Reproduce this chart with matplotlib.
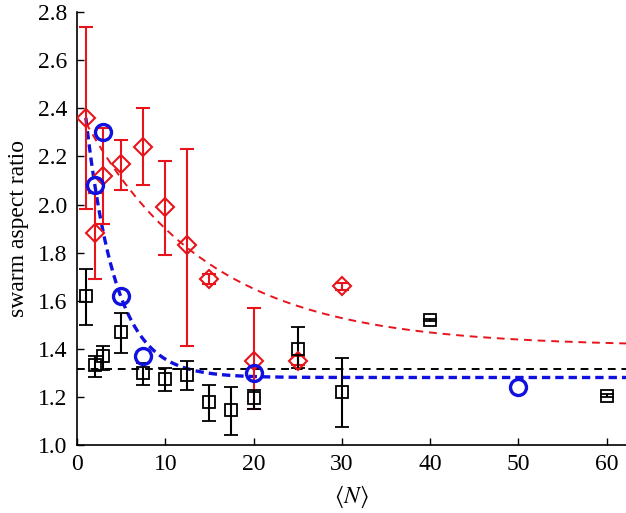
import numpy as np
import matplotlib
matplotlib.use("Agg")
import matplotlib.pyplot as plt

plt.rcParams['font.family'] = ['Liberation Serif', 'DejaVu Serif']
plt.rcParams['mathtext.fontset'] = 'stix'

# red diamonds
red_x = [1, 2, 3, 5, 7.5, 10, 12.5, 15, 20, 25, 30]
red_y = [2.36, 1.88, 2.12, 2.17, 2.24, 1.99, 1.83, 1.69, 1.35, 1.35, 1.66]
red_lo = [1.98, 1.69, 1.92, 2.06, 2.08, 1.79, 1.41, 1.67, 1.15, 1.33, 1.645]
red_hi = [2.74, 2.05, 2.32, 2.27, 2.40, 2.18, 2.23, 1.71, 1.57, 1.37, 1.675]

# black squares
blk_x = [1, 2, 3, 5, 7.5, 10, 12.5, 15, 17.5, 20, 25, 30, 40, 60]
blk_y = [1.62, 1.33, 1.37, 1.47, 1.30, 1.275, 1.29, 1.18, 1.145, 1.195, 1.40, 1.22, 1.52, 1.205]
blk_lo = [1.50, 1.28, 1.31, 1.38, 1.25, 1.225, 1.23, 1.10, 1.04, 1.15, 1.32, 1.075, 1.515, 1.20]
blk_hi = [1.73, 1.37, 1.41, 1.55, 1.34, 1.32, 1.35, 1.25, 1.24, 1.23, 1.49, 1.36, 1.525, 1.21]

# blue circles
blue_x = [2, 3, 5, 7.5, 20, 50]
blue_y = [2.08, 2.30, 1.62, 1.37, 1.30, 1.24]

# fitted curves: c + A*exp(-x/tau)
red_fit = dict(c=1.41, A=1.0, tau=14.0)
blue_fit = dict(c=1.28, A=1.45, tau=3.4)
black_level = 1.317

fig = plt.figure(figsize=(6.26, 5.13), dpi=100)
ax = fig.add_axes([0.123, 0.133, 0.877, 0.843])

xf = np.linspace(1, 62.5, 400)
ax.plot(xf, red_fit['c'] + red_fit['A'] * np.exp(-xf / red_fit['tau']),
        color='#e8141c', ls=(0, (4, 3)), lw=1.4, zorder=2)
ax.axhline(black_level, color='black', ls=(0, (4, 3)), lw=1.4, zorder=2)
ax.plot(xf, blue_fit['c'] + blue_fit['A'] * np.exp(-xf / blue_fit['tau']),
        color='#1010e0', ls=(0, (2.5, 1.5)), lw=2.4, zorder=2)

ry = np.array(red_y)
ax.errorbar(red_x, red_y, yerr=[ry - np.array(red_lo), np.array(red_hi) - ry],
            fmt='D', ms=9.5, mfc='none', mec='#e8141c', mew=1.5,
            ecolor='#e8141c', elinewidth=1.5, capsize=5, capthick=1.5, zorder=3)
by = np.array(blk_y)
ax.errorbar(blk_x, blk_y, yerr=[by - np.array(blk_lo), np.array(blk_hi) - by],
            fmt='s', ms=8, mfc='none', mec='black', mew=1.3,
            ecolor='black', elinewidth=1.5, capsize=5, capthick=1.5, zorder=3)
ax.plot(blue_x, blue_y, 'o', ms=11.5, mfc='none', mec='#1010e0', mew=2.4, zorder=4)

ax.set_xlim(0, 62.2)
ax.set_ylim(1.0, 2.8)
ax.set_xticks([0, 10, 20, 30, 40, 50, 60])
ax.set_yticks(np.arange(1.0, 2.81, 0.2))
ax.set_yticklabels(['%.1f' % v for v in np.arange(1.0, 2.81, 0.2)])
ax.tick_params(direction='in', length=5, width=1, labelsize=17, pad=7)
for s in ['top', 'right']:
    ax.spines[s].set_visible(False)
for s in ['left', 'bottom']:
    ax.spines[s].set_linewidth(1.2)

ax.set_xlabel(r'$\langle N\rangle$', fontsize=17, labelpad=6)
ax.set_ylabel('swarm aspect ratio', fontsize=17, labelpad=6)

fig.savefig('out.png', dpi=100)
